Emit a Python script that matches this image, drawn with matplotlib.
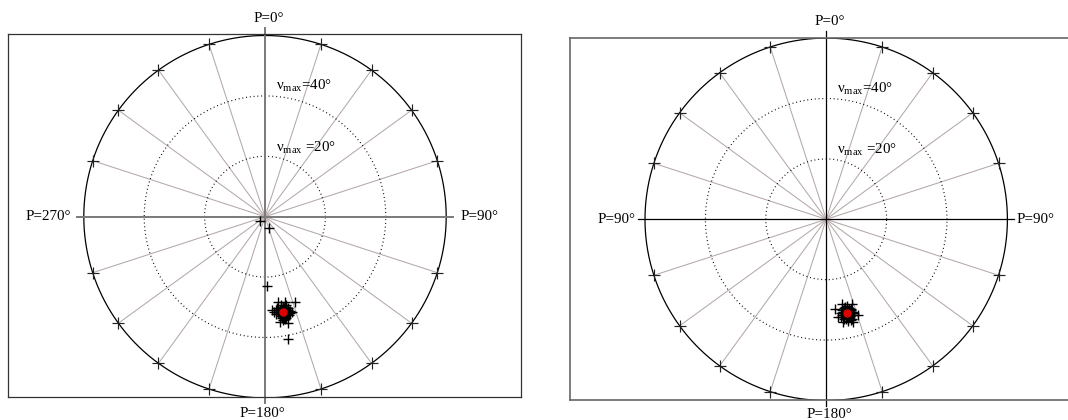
import numpy as np
import matplotlib
matplotlib.use("Agg")
import matplotlib.pyplot as plt

plt.rcParams['font.family'] = ['Liberation Serif', 'DejaVu Serif']
plt.rcParams['mathtext.fontset'] = 'custom'
plt.rcParams['mathtext.rm'] = 'Liberation Serif'
plt.rcParams['mathtext.it'] = 'Liberation Serif:italic'

# Pole positions: azimuth P (deg, clockwise from top) and tilt nu (deg)
left_P = [169.1, 178.6, 169.3, 230.5, 159.3,
          171.1, 166.8, 160.6, 175.9, 174.9, 171.8, 167.6, 169.9,
          168, 170, 166, 171, 169, 172, 167, 169, 170, 165, 173, 168,
          171, 167, 170, 166, 169, 171, 164, 170, 168.5, 172.5, 166.5, 169.5,
          167.8, 170.6, 165.8, 172.2, 168.2, 169.8, 166.2, 171.4, 167.4, 170.2,
          168.8, 165.2, 173.4, 169.0, 171.8, 166.8]
left_nu = [32.2, 22.9, 41.3, 2.2, 4.0,
           28.5, 29.0, 30.1, 30.9, 31.7, 35.3, 35.9, 34.8,
           31.0, 31.5, 32.0, 32.5, 33.0, 31.8, 32.8, 30.5, 33.5, 32.2, 31.2, 32.6,
           33.2, 30.8, 31.6, 32.4, 33.8, 31.4, 32.9, 30.2, 32.1, 31.9, 33.1, 32.3,
           30.6, 34.0, 31.2, 30.4, 34.2, 29.8, 33.6, 32.6, 31.4, 33.0,
           30.9, 32.9, 32.4, 34.4, 31.1, 30.0]
left_mean = (169.1, 32.2)

right_P = [174.4, 169.7, 163.3, 161.6, 165.2, 170.5, 173.0,
           167, 169, 165, 168, 166, 170, 164, 167.5, 168.5, 166.5, 169.5,
           165.5, 167, 168, 163.5, 170.5, 166, 168.8, 164.5, 167.2, 169.2,
           171.2, 166.2, 168.2, 164.8, 170.0, 167.8, 165.8, 169.8, 163.8, 168.6,
           171.6, 166.8]
right_nu = [29.9, 28.5, 29.2, 33.5, 35.2, 34.5, 32.6,
            31.0, 31.5, 32.0, 32.5, 33.0, 30.5, 31.8, 33.6, 30.8, 32.8, 31.2,
            34.0, 30.2, 33.2, 32.2, 32.0, 30.6, 33.8, 31.0, 32.4, 31.6,
            31.4, 34.2, 29.8, 30.9, 33.4, 34.6, 31.6, 32.2, 32.9, 30.0,
            32.8, 29.6]
right_mean = (167.3, 31.8)

nu_rings = [20, 40]
nu_outer = 60

left_labels = {'top': 'P=0°', 'bottom': 'P=180°', 'left': 'P=270°', 'right': 'P=90°'}
right_labels = {'top': 'P=0°', 'bottom': 'P=180°', 'left': 'P=90°', 'right': 'P=90°'}

FIG_W, FIG_H = 1068, 420
S = 3.02  # pixels per degree


def to_xy(P, nu):
    P = np.radians(np.asarray(P, dtype=float))
    nu = np.asarray(nu, dtype=float)
    return nu * np.sin(P), nu * np.cos(P)


def make_axes(fig, left, right, top, bottom, cx, cy):
    ax = fig.add_axes([left / FIG_W, (FIG_H - bottom) / FIG_H,
                       (right - left) / FIG_W, (bottom - top) / FIG_H])
    ax.set_xlim(-(cx - left) / S, (right - cx) / S)
    ax.set_ylim(-(bottom - cy) / S, (cy - top) / S)
    ax.set_xticks([])
    ax.set_yticks([])
    return ax


def draw_panel(ax, P, nu, mean, labels, axis_color, axis_lw, spine_color, spine_lw, lab_pos):
    for sp in ax.spines.values():
        sp.set_color(spine_color)
        sp.set_linewidth(spine_lw)

    t = np.linspace(0, 2 * np.pi, 361)
    # spokes every 18 degrees
    for a in np.arange(0, 360, 18):
        if a % 90 == 0:
            continue
        x, y = to_xy([a], [nu_outer])
        ax.plot([0, x[0]], [0, y[0]], color='#b5a8a8', lw=0.75, zorder=1)
        ax.plot(x, y, marker='+', ms=8.5, mew=0.85, color='#222222', ls='none', zorder=3)

    # dotted rings
    for r in nu_rings:
        ax.plot(r * np.cos(t), r * np.sin(t), color='black', lw=0.85,
                ls=(0, (0.8, 2.4)), zorder=2)
    ax.plot(nu_outer * np.cos(t), nu_outer * np.sin(t), color='black', lw=0.9, zorder=2)

    # main axes
    ax.plot([0, 0], [-61.8, 62.4], color=axis_color, lw=axis_lw, clip_on=False, zorder=2)
    ax.plot([-62.4, 62.2], [0, 0], color=axis_color, lw=axis_lw, clip_on=False, zorder=2)

    ax.text(3.6, 40.6, r'$\mathrm{ν}_{\mathrm{max}}$=40°', fontsize=10.8,
            ha='left', va='bottom', zorder=4)
    ax.text(3.6, 20.2, r'$\mathrm{ν}_{\mathrm{max}}$ =20°', fontsize=10.8,
            ha='left', va='bottom', zorder=4)

    x, y = to_xy(P, nu)
    ax.plot(x, y, marker='+', ms=6.5, mew=1.0, color='black', ls='none', zorder=5)
    mx, my = to_xy([mean[0]], [mean[1]])
    ax.plot(mx, my, marker='o', ms=5.0, color='#e00000', mec='#e00000', ls='none', zorder=6)

    fs = 10.8
    ax.text(lab_pos['top'][0], lab_pos['top'][1], labels['top'], fontsize=fs,
            ha='center', va='center', clip_on=False)
    ax.text(lab_pos['bottom'][0], lab_pos['bottom'][1], labels['bottom'], fontsize=fs,
            ha='center', va='center', clip_on=False)
    ax.text(lab_pos['left'][0], lab_pos['left'][1], labels['left'], fontsize=fs,
            ha='right', va='center', clip_on=False)
    ax.text(lab_pos['right'][0], lab_pos['right'][1], labels['right'], fontsize=fs,
            ha='left', va='center', clip_on=False)


fig = plt.figure(figsize=(FIG_W / 100, FIG_H / 100), dpi=100)
fig.patch.set_facecolor('white')

axL = make_axes(fig, 8.2, 521, 34, 396.7, 265, 216.7)
draw_panel(axL, left_P, left_nu, left_mean, left_labels,
           axis_color='#7a7a7a', axis_lw=1.4, spine_color='#333333', spine_lw=0.9,
           lab_pos={'top': (1.2, 65.5), 'bottom': (-0.8, -65.3),
                    'left': (-64.3, 0.2), 'right': (64.7, 0.2)})

axR = make_axes(fig, 570.4, 1082, 37.7, 400, 826.2, 219.3)
draw_panel(axR, right_P, right_nu, right_mean, right_labels,
           axis_color='black', axis_lw=0.9, spine_color='#666666', spine_lw=1.2,
           lab_pos={'top': (1.2, 65.6), 'bottom': (1.0, -64.6),
                    'left': (-63.0, 0.0), 'right': (63.1, 0.0)})

fig.savefig('out.png', dpi=100, facecolor='white')
